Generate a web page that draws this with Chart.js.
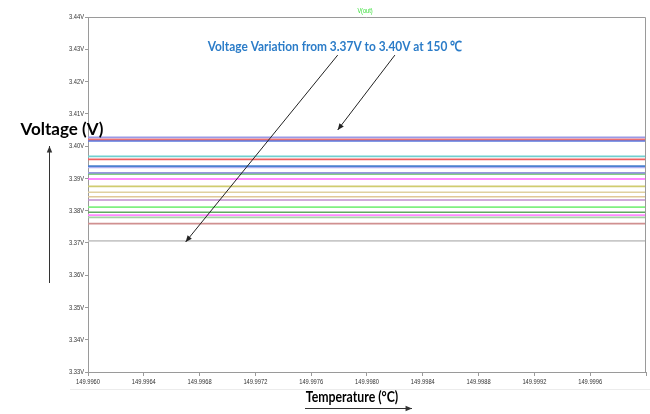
<!DOCTYPE html>
<html><head><meta charset="utf-8">
<script src="https://cdn.jsdelivr.net/npm/chart.js@4"></script>
<style>html,body{margin:0;padding:0;background:#fff}#wrap{width:650px;height:414px}</style>
</head><body><div id="wrap"><canvas id="c" width="650" height="414"></canvas></div>
<script>
// ---- data ----
const xTicks = [149.9960,149.9964,149.9968,149.9972,149.9976,149.9980,149.9984,149.9988,149.9992,149.9996,150.0000];
const yTicks = [3.33,3.34,3.35,3.36,3.37,3.38,3.39,3.40,3.41,3.42,3.43,3.44];
const xBreaks = [149.9960, 149.9980, 150.0000];
const leftValues  = [3.4026,3.4021,3.4017,3.3965,3.3959,3.3935,3.3932,3.3920,3.3913,3.3898,3.3873,3.3855,3.3843,3.3831,3.3809,3.3795,3.3786,3.3778,3.3760,3.3706];
const rightValues = [3.4027,3.4021,3.4016,3.3968,3.3959,3.3938,3.3934,3.3917,3.3914,3.3898,3.3875,3.3857,3.3843,3.3833,3.3811,3.3795,3.3786,3.3779,3.3760,3.3706];
const seriesColors = ['#9a9ae6','#f07070','#5a78e0','#70d0d0','#f06060','#4a80d0','#b0b0f0','#9898e0','#60c060','#ff60ff','#d0cc70','#e0d0a0','#e0c898','#c090d0','#80f080','#60a860','#ff88ff','#a8d0a8','#d09090','#c8c8c8'];
// annotation anchors in data units
const noteText = 'Voltage Variation from 3.37V to 3.40V at 150 \u2103';
const noteAt = {x:149.99777, y:3.4310};
const arrows = [
  {from:{x:149.99779,y:3.4282}, to:{x:149.99670,y:3.3703}},
  {from:{x:149.99820,y:3.4282}, to:{x:149.99779,y:3.4050}}
];

const datasets = leftValues.map((v,i)=>({
  label:'s'+(i+1),
  data:[{x:xBreaks[0],y:v},{x:xBreaks[1],y:rightValues[i]},{x:xBreaks[2],y:rightValues[i]}],
  stepped:'after',
  borderColor:seriesColors[i],
  borderWidth:1.7,
  pointRadius:0,
  fill:false
}));

function arrow(ctx,x1,y1,x2,y2,head){
  ctx.beginPath();ctx.moveTo(x1,y1);ctx.lineTo(x2,y2);ctx.stroke();
  const a=Math.atan2(y2-y1,x2-x1);
  ctx.beginPath();
  ctx.moveTo(x2,y2);
  ctx.lineTo(x2-head*Math.cos(a-0.4),y2-head*Math.sin(a-0.4));
  ctx.lineTo(x2-head*Math.cos(a+0.4),y2-head*Math.sin(a+0.4));
  ctx.closePath();ctx.fill();
}
function narrowText(ctx,txt,x,y,sx){
  ctx.save();ctx.translate(x,y);ctx.scale(sx,1);ctx.fillText(txt,0,0);ctx.restore();
}

const deco = {
  id:'deco',
  afterDraw(chart){
    const {ctx, chartArea:ca, scales:{x,y}} = chart;
    ctx.save();
    // frame top/right
    ctx.strokeStyle='#9a9a9a';ctx.lineWidth=1;
    ctx.beginPath();ctx.moveTo(ca.left,ca.top+0.5);ctx.lineTo(ca.right-0.5,ca.top+0.5);ctx.lineTo(ca.right-0.5,ca.bottom);ctx.stroke();
    // faint separator line
    ctx.strokeStyle='#ececec';
    ctx.beginPath();ctx.moveTo(70,389.5);ctx.lineTo(650,389.5);ctx.stroke();
    // tick labels (from the library's scales), condensed like the original
    ctx.fillStyle='#333';ctx.font='8px "Liberation Sans", Arial, sans-serif';
    ctx.textBaseline='middle';
    ctx.textAlign='right';
    y.ticks.forEach(t=>narrowText(ctx,t.label,ca.left-4,y.getPixelForValue(t.value),0.72));
    ctx.textAlign='center';
    x.ticks.forEach(t=>{ if(t.label) narrowText(ctx,t.label,x.getPixelForValue(t.value),ca.bottom+10,0.72); });
    // series name
    ctx.fillStyle='#33dd33';ctx.font='7px "Liberation Sans", Arial, sans-serif';
    narrowText(ctx,'V(out)',(ca.left+ca.right)/2-2,11,0.8);
    // note
    ctx.fillStyle='#2b7cc8';ctx.font='bold 14px Lato, "Open Sans", sans-serif';
    narrowText(ctx,noteText,x.getPixelForValue(noteAt.x),y.getPixelForValue(noteAt.y),0.85);
    // arrows in plot
    ctx.strokeStyle='#222';ctx.fillStyle='#222';ctx.lineWidth=1;
    arrows.forEach(a=>arrow(ctx,x.getPixelForValue(a.from.x),y.getPixelForValue(a.from.y),x.getPixelForValue(a.to.x),y.getPixelForValue(a.to.y),7));
    // axis titles
    ctx.fillStyle='#000';ctx.font='bold 17px Lato, "Open Sans", sans-serif';
    narrowText(ctx,'Voltage (V)',62,130,1.0);
    ctx.font='bold 15px Lato, "Open Sans", sans-serif';
    narrowText(ctx,'Temperature (\u00B0C)',352,397,0.82);
    // axis arrows
    ctx.strokeStyle='#333';ctx.fillStyle='#333';
    arrow(ctx,49.5,283,49.5,146,7);
    arrow(ctx,305,408.5,412,408.5,7);
    ctx.restore();
  }
};

const tickFont = {family:'"Liberation Sans", Arial, sans-serif', size:8};

new Chart(document.getElementById('c'),{
  type:'line',
  data:{datasets},
  options:{
    responsive:false,animation:false,devicePixelRatio:1,
    layout:{padding:{top:17,right:4,left:0,bottom:0}},
    plugins:{legend:{display:false},tooltip:{enabled:false}},
    scales:{
      x:{type:'linear',min:149.996,max:150.0,
        afterBuildTicks:s=>{s.ticks=xTicks.map(v=>({value:v}));},
        afterFit:s=>{s.height=42;},
        ticks:{font:tickFont,color:'rgba(0,0,0,0)',maxRotation:0,autoSkip:false,padding:2,
          callback:(v,i)=> i===xTicks.length-1?'':Number(v).toFixed(4)},
        grid:{display:true,drawOnChartArea:false,tickLength:4,color:'#9a9a9a'},
        border:{display:true,color:'#9a9a9a'}
      },
      y:{type:'linear',min:3.33,max:3.44,
        afterBuildTicks:s=>{s.ticks=yTicks.map(v=>({value:v}));},
        afterFit:s=>{s.width=88;},
        ticks:{font:tickFont,color:'rgba(0,0,0,0)',padding:1,autoSkip:false,
          callback:v=>Number(v).toFixed(2)+'V'},
        grid:{display:true,drawOnChartArea:false,tickLength:3,color:'#9a9a9a'},
        border:{display:true,color:'#9a9a9a'}
      }
    }
  },
  plugins:[deco]
});
</script></body></html>
